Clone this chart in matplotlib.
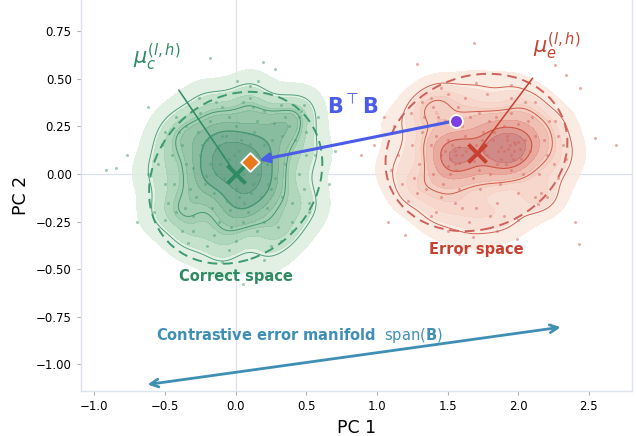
import numpy as np
import matplotlib
matplotlib.use("Agg")
import matplotlib.pyplot as plt
from matplotlib.patches import Ellipse
from matplotlib.colors import LinearSegmentedColormap
import seaborn as sns

# ---------------- data ----------------
correct_x = [-0.25,-0.18,-0.12,-0.05,0.02,0.08,0.15,0.22,0.28,-0.22,-0.15,-0.08,0.00,0.06,0.12,0.18,0.25,-0.28,-0.20,-0.10,
             0.04,0.10,0.20,-0.02,0.03,-0.06,0.09,-0.14,0.16,-0.30,0.30,-0.04,0.13,-0.17,0.22,0.00,-0.09,0.07,-0.24,0.26,
             -0.45,-0.50,-0.42,-0.35,-0.30,-0.15,0.00,0.15,0.30,0.40,0.45,0.42,0.35,0.20,0.05,-0.10,-0.25,-0.40,-0.55,-0.48,
             -0.38,0.48,0.38,-0.20,0.25,0.10,-0.05,0.50,-0.52,0.32,
             -0.62,-0.58,-0.50,-0.42,-0.26,0.10,0.32,0.50,0.56,0.52,0.40,0.20,-0.10,-0.34,-0.50,0.52,0.45,
             -0.35,-0.32,-0.27,-0.12,0.05,0.20,0.33,0.35,0.33,0.15,-0.05,-0.18,-0.38,-0.36,-0.01,0.11,-0.11,0.19,-0.21,0.05,
             -0.03,0.27,-0.30,0.40,-0.44,0.12,-0.14,0.23,-0.07,0.02,0.48,0.46]
correct_y = [0.10,0.05,0.15,0.08,0.12,0.03,0.10,0.05,-0.02,-0.05,-0.10,-0.02,-0.08,-0.15,-0.05,-0.12,-0.08,-0.12,0.18,0.20,
             0.18,0.16,0.15,0.02,-0.03,-0.14,-0.20,0.00,0.00,0.03,0.10,-0.19,0.22,-0.18,-0.18,0.25,0.10,0.08,0.15,0.18,
             0.10,-0.05,-0.20,0.25,-0.30,-0.32,-0.35,-0.30,-0.28,-0.15,0.00,0.18,0.30,0.33,0.38,0.35,0.32,0.22,0.05,-0.15,
             -0.30,-0.08,0.25,-0.38,-0.38,0.40,-0.40,0.10,0.15,-0.35,
             0.00,-0.20,0.22,0.30,0.40,0.46,0.36,0.22,0.10,-0.15,-0.30,-0.45,-0.46,-0.36,-0.24,-0.20,0.30,
             0.05,-0.08,0.22,-0.25,-0.25,-0.25,-0.12,0.05,0.20,0.28,0.30,0.28,0.15,-0.18,0.10,-0.10,0.05,0.07,-0.01,0.00,
             -0.28,0.27,-0.22,-0.25,-0.05,0.35,0.38,-0.05,0.20,-0.12,0.36,0.33]
# stray correct samples (scattered only)
correct_stray_x = [-0.92,-0.85,-0.77,-0.18,0.19,0.01,0.16,0.70,-0.70,0.66,-0.35,0.05,-0.62,0.28,0.58,0.72]
correct_stray_y = [0.02,0.03,0.10,0.61,0.59,0.49,0.49,0.12,-0.25,-0.05,-0.55,-0.58,0.35,0.55,0.30,0.36]

error_x = [1.45,1.50,1.55,1.58,1.62,1.65,1.70,1.72,1.75,1.78,1.82,1.85,1.88,1.92,1.95,1.98,2.02,2.05,1.90,1.60,
           1.52,1.68,1.80,1.95,2.08,1.42,1.48,1.66,1.84,2.00,1.56,1.93,1.97,1.53,1.76,1.88,
           1.30,1.32,1.35,1.40,1.45,1.55,1.62,1.70,1.78,1.85,1.95,2.00,2.10,2.15,2.18,2.12,2.20,1.25,1.38,1.28,
           2.22,1.50,1.65,1.90,2.05,
           1.15,1.12,1.18,1.24,1.22,1.38,1.50,1.68,1.85,2.00,2.14,2.28,2.32,2.26,2.12,1.95,1.70,1.45,1.32,2.34,
           1.10,2.20,
           1.40,1.43,1.47,1.58,1.73,1.87,2.03,2.12,2.07,1.72,1.57,1.38,1.63,1.83,1.91,2.01,1.69,1.48,1.79,1.95,
           1.33,1.26,2.25,2.16,1.60,1.80,1.42,2.28,1.74,1.86,
           1.52,1.55,1.58,1.50,1.56,1.60,1.94,1.97,1.92,2.00,1.96,1.90]
error_y = [0.10,0.18,0.05,0.14,0.20,0.08,0.15,0.02,0.22,0.10,0.18,0.05,0.14,0.20,0.10,0.16,0.08,0.18,0.25,0.25,
           0.00,-0.02,0.00,0.02,0.12,0.20,0.28,0.30,0.30,0.26,0.10,0.13,0.17,0.15,0.12,0.08,
           0.05,0.22,-0.08,0.35,-0.12,-0.15,0.40,-0.18,0.42,-0.15,0.40,-0.10,0.30,0.00,0.18,-0.12,0.10,0.15,0.40,-0.10,
           0.28,0.42,-0.25,-0.22,0.38,
           0.10,0.25,-0.05,0.32,-0.14,-0.22,-0.30,-0.33,-0.30,-0.24,-0.16,-0.02,0.15,0.28,0.38,0.47,0.48,0.45,0.38,0.08,
           0.02,-0.12,
           0.00,0.30,-0.05,-0.08,-0.08,-0.05,0.00,0.20,0.28,0.32,0.35,0.15,0.12,0.22,0.05,0.13,0.07,0.12,0.28,0.32,
           0.30,-0.02,0.05,-0.10,-0.18,-0.22,-0.20,0.20,0.18,0.12,
           0.08,0.12,0.06,0.04,0.02,0.10,0.15,0.12,0.18,0.17,0.08,0.12]
# stray error samples (scattered only)
error_stray_x = [2.69,2.54,2.44,2.34,2.43,1.99,1.69,2.26,1.05,1.20,2.40,1.58,0.98,0.89,1.08,1.28]
error_stray_y = [0.15,0.19,0.45,0.52,-0.37,-0.34,0.69,0.57,0.30,-0.32,-0.25,-0.42,0.15,0.10,-0.25,0.58]

mu_c = (0.0, 0.0)
mu_e = (1.706, 0.112)
projected = (0.101, 0.063)     # orange diamond
error_point = (1.557, 0.280)   # purple dot
manifold_ends = [(-0.624, -1.106), (2.30, -0.805)]

# ellipses: center, width, height, angle
correct_ellipse = ((0.0, -0.02), 1.245, 0.878, 14)
error_ellipse = ((1.704, 0.113), 1.295, 0.815, 8)

GREEN = "#2e8b62"
GREEN_PT = "#4f9d72"
RED = "#c8402f"
RED_PT = "#d5645c"
BLUE = "#4b5ce8"
TEAL = "#3e8fb3"

green_cmap = LinearSegmentedColormap.from_list("g", ["#f1f8ef", "#c2e2c8", "#8cc29f", "#64a384", "#4f9272"])
red_cmap = LinearSegmentedColormap.from_list("r", ["#fcf1e8", "#f5cdbf", "#e69b8e", "#d27d76", "#c06e6e"])

# ---------------- figure ----------------
fig = plt.figure(figsize=(6.37, 4.36), dpi=100)
ax = fig.add_axes([80.7/637, 45/436, (632-80.7)/637, 391/436])

ax.axhline(0, color="#dde1ef", lw=0.9, zorder=0)
ax.axvline(0, color="#dde1ef", lw=0.9, zorder=0)

kde_kw = dict(bw_adjust=0.8, ax=ax)
sns.kdeplot(x=correct_x, y=correct_y, fill=True, cmap=green_cmap, levels=9, thresh=0.03,
            alpha=0.85, zorder=1, **kde_kw)
sns.kdeplot(x=correct_x, y=correct_y, fill=False, color=GREEN, levels=[0.12, 0.45, 0.75],
            linewidths=0.7, alpha=0.8, zorder=2, **kde_kw)
sns.kdeplot(x=error_x, y=error_y, fill=True, cmap=red_cmap, levels=9, thresh=0.03,
            alpha=0.85, zorder=1, **kde_kw)
sns.kdeplot(x=error_x, y=error_y, fill=False, color=RED, levels=[0.12, 0.45, 0.75],
            linewidths=0.7, alpha=0.8, zorder=2, **kde_kw)

ax.scatter(correct_x + correct_stray_x, correct_y + correct_stray_y, s=5, color=GREEN_PT,
           alpha=0.5, lw=0, zorder=3)
ax.scatter(error_x + error_stray_x, error_y + error_stray_y, s=5, color=RED_PT,
           alpha=0.5, lw=0, zorder=3)

for (c, w, h, a), col in [(correct_ellipse, "#3d9a6d"), (error_ellipse, "#d0605a")]:
    ax.add_patch(Ellipse(c, w, h, angle=a, fill=False, ls=(0, (5, 3)), lw=1.4,
                         edgecolor=col, zorder=4))

# centroids
ax.scatter(*mu_c, marker="x", s=170, color=GREEN, linewidths=2.8, zorder=6)
ax.scatter(*mu_e, marker="x", s=170, color=RED, linewidths=2.8, zorder=6)

# labels for centroids
ax.annotate(r"$\mu_c^{(l,h)}$", xy=mu_c, xytext=(-0.557, 0.61), color=GREEN, fontsize=15,
            ha="center", va="center",
            arrowprops=dict(arrowstyle="-", color=GREEN, lw=1.1, shrinkA=12, shrinkB=3), zorder=5)
ax.annotate(r"$\mu_e^{(l,h)}$", xy=mu_e, xytext=(2.27, 0.67), color=RED, fontsize=15,
            ha="center", va="center",
            arrowprops=dict(arrowstyle="-", color=RED, lw=1.1, shrinkA=12, shrinkB=3), zorder=5)

# B^T B arrow
ax.annotate("", xy=projected, xytext=error_point,
            arrowprops=dict(arrowstyle="-|>", color=BLUE, lw=2.2, mutation_scale=14,
                            shrinkA=4, shrinkB=7), zorder=7)
ax.scatter(*error_point, s=85, color="#7b3fe4", edgecolors="white", linewidths=1.3, zorder=8)
ax.scatter(*projected, marker="D", s=90, color="#e8781e", edgecolors="white", linewidths=1.3, zorder=8)
ax.text(0.83, 0.36, r"$\mathbf{B}^{\top}\mathbf{B}$", color=BLUE, fontsize=15,
        ha="center", va="center", zorder=8)

# space labels
ax.text(0.0, -0.536, "Correct space", color=GREEN, fontsize=10.5, fontweight="bold",
        ha="center", va="center", zorder=8)
ax.text(1.705, -0.395, "Error space", color=RED, fontsize=10.5, fontweight="bold",
        ha="center", va="center", zorder=8)

# manifold
ax.annotate("", xy=manifold_ends[1], xytext=manifold_ends[0],
            arrowprops=dict(arrowstyle="<->", color=TEAL, lw=2.0, mutation_scale=14,
                            shrinkA=0, shrinkB=0), zorder=5)
ax.text(-0.565, -0.85, r"$\mathbf{Contrastive\ error\ manifold}$  span($\mathbf{B}$)",
        color=TEAL, fontsize=10.5, ha="left", va="center", zorder=8)

ax.set_xlim(-1.097, 2.805)
ax.set_ylim(-1.140, 0.914)
ax.set_xticks([-1.0, -0.5, 0.0, 0.5, 1.0, 1.5, 2.0, 2.5])
ax.set_yticks([-1.0, -0.75, -0.5, -0.25, 0.0, 0.25, 0.5, 0.75])
ax.tick_params(labelsize=8.5, length=3, color="#b0b0b0", width=0.8)
for side in ["left", "bottom", "right"]:
    ax.spines[side].set_color("#dde3ee")
    ax.spines[side].set_linewidth(1.0)
ax.spines["top"].set_visible(False)
ax.set_xlabel("PC 1", fontsize=12.5)
ax.set_ylabel("PC 2", fontsize=12.5)

fig.savefig("out.png", dpi=100)
